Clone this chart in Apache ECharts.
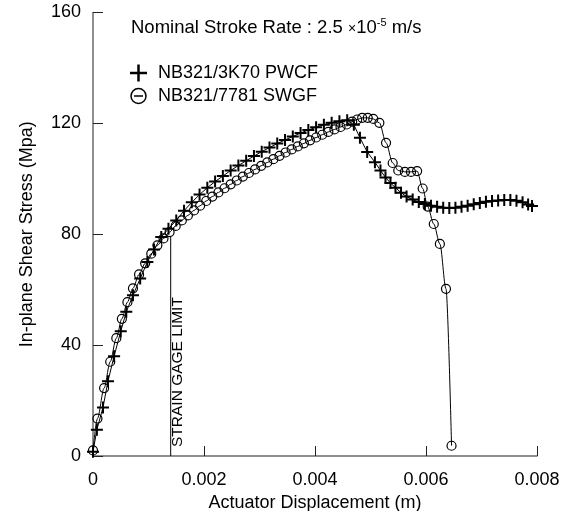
<!DOCTYPE html>
<html><head><meta charset="utf-8">
<script src="https://cdn.jsdelivr.net/npm/echarts@6/dist/echarts.min.js"></script>
<style>html,body{margin:0;padding:0;background:#fff}#c{width:565px;height:511px}</style>
</head><body><div id="c"></div>
<script>
// ---- data ----
const xTicks = [0, 0.002, 0.004, 0.006, 0.008];
const yTicks = [0, 40, 80, 120, 160];
const seriesNames = ['NB321/3K70 PWCF', 'NB321/7781 SWGF'];
const strainLabel = 'STRAIN GAGE LIMIT';

const pwcfX = [0,0.00007,0.00018,0.00027,0.00038,0.0005,0.0006,0.00072,0.00085,0.00098,0.0011,0.00123,0.00136,0.0015,0.00164,0.00178,0.00192,0.00206,0.0022,0.00234,0.00248,0.00262,0.00276,0.0029,0.00304,0.00318,0.00332,0.00346,0.0036,0.00374,0.00388,0.00402,0.00416,0.0043,0.00444,0.00458,0.0047,0.00481,0.00494,0.00508,0.00518,0.00527,0.00536,0.00545,0.00555,0.00565,0.00576,0.00587,0.00598,0.00609,0.0062,0.00631,0.00642,0.00653,0.00664,0.00675,0.00686,0.00697,0.00708,0.00719,0.0073,0.00741,0.00752,0.00763,0.00774,0.00784,0.00791];
const pwcfY = [1.5,9.5,17.5,27,36,45,52,58,64,70,74.5,79,82,85,88.5,91.5,94.3,96.8,99,101,103,104.8,106.5,108.2,109.8,111.3,112.7,114,115.3,116.5,117.6,118.6,119.5,120.2,120.8,121.1,119.5,114.8,109.7,106,103,100.5,98.5,96.8,95,93.6,92.5,91.6,90.9,90.3,89.9,89.6,89.5,89.6,89.9,90.3,90.8,91.3,91.7,92,92.2,92.4,92.4,92.1,91.5,90.7,90.2];

const swgfX = [0,0.00008,0.0002,0.00031,0.00042,0.00052,0.00062,0.00072,0.00083,0.00094,0.00105,0.00116,0.00127,0.00138,0.00149,0.0016,0.00171,0.00182,0.00193,0.00204,0.00215,0.00226,0.00237,0.00248,0.00259,0.0027,0.00281,0.00292,0.00303,0.00314,0.00325,0.00336,0.00347,0.00358,0.00369,0.0038,0.00391,0.00402,0.00413,0.00424,0.00435,0.00446,0.00457,0.00467,0.00476,0.00485,0.00495,0.00505,0.00516,0.00528,0.0054,0.0055,0.00562,0.00573,0.00584,0.00594,0.00603,0.00614,0.00625,0.00636,0.00646];
const swgfY = [2,13.5,24.5,34,42.5,49.5,55.5,60.5,65.5,69.5,73,76,78.5,80.8,83,85,86.8,88.6,90.3,92,93.6,95.1,96.6,98,99.4,100.8,102.1,103.4,104.7,105.9,107.1,108.3,109.5,110.6,111.7,112.8,113.9,114.9,115.9,116.9,117.8,118.7,119.6,120.6,121.4,122,122,121.6,120.2,113,105.7,103,102.5,102.5,102.8,96.5,90,83.7,76.5,60.3,3.7];

const strainGageX = [0.0014, 0.0014];
const strainGageY = [0, 79];

// ---- chart ----
const zip = (xs, ys) => xs.map((x, i) => [x, ys[i]]);
const FONT = '"Liberation Sans", Arial, Helvetica, sans-serif';
const plusPath = 'path://M5,0H7V5H12V7H7V12H5V7H0V5H5Z';

const chart = echarts.init(document.getElementById('c'), null, {renderer: 'canvas'});
const axisCommon = {
  axisLine: {show: true, lineStyle: {color: '#6a6a6a', width: 1.5}},
  axisTick: {show: true, inside: true, length: 10, lineStyle: {color: '#222', width: 1}},
  axisLabel: {color: '#000', fontSize: 18, fontFamily: FONT},
  splitLine: {show: false},
  nameTextStyle: {color: '#000', fontSize: 18, fontFamily: FONT}
};
chart.setOption({
  animation: false,
  backgroundColor: '#fff',
  grid: {left: 93, right: 28, top: 12.5, bottom: 55, containLabel: false, outerBoundsMode: 'none'},
  xAxis: Object.assign({}, axisCommon, {
    type: 'value', min: xTicks[0], max: xTicks[xTicks.length - 1],
    interval: xTicks[1] - xTicks[0],
    name: 'Actuator Displacement (m)', nameLocation: 'middle', nameGap: 27,
    axisLabel: Object.assign({}, axisCommon.axisLabel, {margin: 15})
  }),
  yAxis: Object.assign({}, axisCommon, {
    type: 'value', min: yTicks[0], max: yTicks[yTicks.length - 1],
    interval: yTicks[1] - yTicks[0],
    name: 'In-plane Shear Stress (Mpa)', nameLocation: 'middle', nameGap: 57,
    axisLabel: Object.assign({}, axisCommon.axisLabel, {margin: 12})
  }),
  series: [
    {
      name: 'strain', type: 'line', data: zip(strainGageX, strainGageY),
      showSymbol: false, symbol: 'none', silent: true,
      lineStyle: {color: '#000', width: 1}
    },
    {
      name: seriesNames[0], type: 'line', data: zip(pwcfX, pwcfY),
      symbol: plusPath, symbolSize: 12, showAllSymbol: true,
      itemStyle: {color: '#000'},
      lineStyle: {color: '#000', width: 1},
      silent: true, emphasis: {disabled: true}
    },
    {
      name: seriesNames[1], type: 'line', data: zip(swgfX, swgfY),
      symbol: 'circle', symbolSize: 9, showAllSymbol: true,
      smooth: 0.3, smoothMonotone: 'x',
      itemStyle: {color: 'rgba(0,0,0,0)', borderColor: '#000', borderWidth: 1.2},
      lineStyle: {color: '#000', width: 1},
      silent: true, emphasis: {disabled: true}
    }
  ],
  graphic: [
    {
      type: 'text', left: 131, top: 15,
      style: {
        text: '{a|Nominal Stroke Rate : 2.5 }{b|×}{a|10}{s|-5}{a| m/s}',
        fill: '#000',
        rich: {
          a: {fontSize: 18.5, fontFamily: FONT, lineHeight: 22, verticalAlign: 'bottom'},
          b: {fontSize: 14, fontFamily: FONT, lineHeight: 22, verticalAlign: 'bottom', padding: [0,0,1,0]},
          s: {fontSize: 11, fontFamily: FONT, lineHeight: 22, verticalAlign: 'top', padding: [2,0,0,0]}
        }
      }
    },
    {type: 'rect', shape: {x: 130, y: 71.75, width: 17, height: 2.5}, style: {fill: '#000'}},
    {type: 'rect', shape: {x: 137.25, y: 64.5, width: 2.5, height: 17}, style: {fill: '#000'}},
    {type: 'circle', shape: {cx: 138.5, cy: 96, r: 7.5}, style: {fill: 'none', stroke: '#000', lineWidth: 1.5}},
    {type: 'line', shape: {x1: 134, y1: 96, x2: 143, y2: 96}, style: {stroke: '#000', lineWidth: 1.5}},
    {type: 'text', x: 158, y: 73, style: {text: seriesNames[0], fontSize: 18, fontFamily: FONT, fill: '#000', verticalAlign: 'middle', align: 'left'}},
    {type: 'text', x: 158, y: 96, style: {text: seriesNames[1], fontSize: 18, fontFamily: FONT, fill: '#000', verticalAlign: 'middle', align: 'left'}},
    {type: 'text', x: 178, y: 447, rotation: Math.PI / 2,
     style: {text: strainLabel, fontSize: 15.5, fontFamily: FONT, fill: '#000', verticalAlign: 'middle', align: 'left'}}
  ]
});
</script></body></html>
